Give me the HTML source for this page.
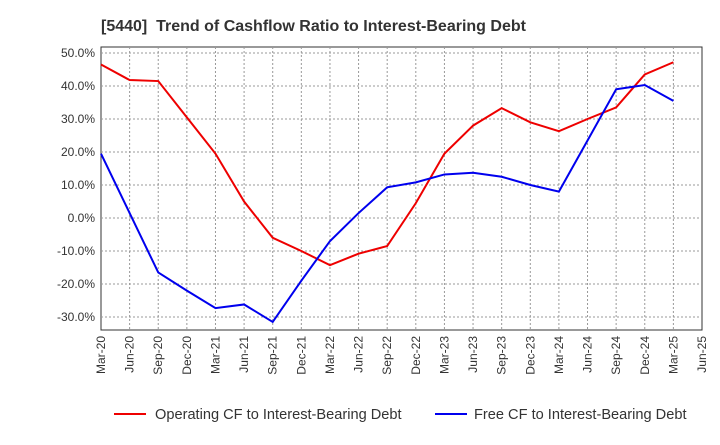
<!DOCTYPE html>
<html><head><meta charset="utf-8"><style>
body{margin:0;background:#fff;font-family:"Liberation Sans",sans-serif}
svg text{font-family:"Liberation Sans",sans-serif}
</style></head><body>
<svg id="chart" width="720" height="440">
<text x="101" y="31" text-anchor="start" font-size="16" font-weight="bold" fill="#333" xml:space="preserve">[5440]  Trend of Cashflow Ratio to Interest-Bearing Debt</text>
<g id="grid"></g><g id="axes"></g><g id="series"></g>
<g>
<line x1="114" y1="414" x2="146" y2="414" stroke="#e00" stroke-width="2"/>
<text x="155" y="419" font-size="14.6" fill="#333">Operating CF to Interest-Bearing Debt</text>
<line x1="435" y1="414" x2="467" y2="414" stroke="#00e" stroke-width="2"/>
<text x="474" y="419" font-size="14.6" fill="#333">Free CF to Interest-Bearing Debt</text>
</g>
</svg>
<script>
const categories=["Mar-20","Jun-20","Sep-20","Dec-20","Mar-21","Jun-21","Sep-21","Dec-21","Mar-22","Jun-22","Sep-22","Dec-22","Mar-23","Jun-23","Sep-23","Dec-23","Mar-24","Jun-24","Sep-24","Dec-24","Mar-25","Jun-25"];
const operatingCF=[46.5,41.8,41.5,30.5,19.5,5,-6,-10,-14.3,-10.8,-8.5,4.5,19.5,28,33.3,29,26.3,30,33.5,43.5,47.2];
const freeCF=[19.5,1.5,-16.5,-22,-27.3,-26.2,-31.5,-19,-7,1.5,9.3,10.8,13.2,13.7,12.5,10,8,23.5,39,40.3,35.5];
const yTicks=[50,40,30,20,10,0,-10,-20,-30];
const NS="http://www.w3.org/2000/svg";
const L=101,R=702,T=47,B=330;
function xs(i){return L+i*(R-L)/(categories.length-1);}
function ys(v){return 218-v*3.3;}
function mk(parent,tag,attrs){const e=document.createElementNS(NS,tag);for(const k in attrs)e.setAttribute(k,attrs[k]);document.getElementById(parent).appendChild(e);return e;}
const frame=mk("grid","rect",{x:L,y:T,width:R-L,height:B-T,fill:"none",stroke:"#333"});


yTicks.forEach(v=>{
 const g=mk("grid","line",{x1:L,x2:R,y1:ys(v),y2:ys(v),stroke:"#999","stroke-dasharray":"2,2"});
 
 
 const t=mk("axes","text",{x:L-6,y:ys(v)+4,"text-anchor":"end","font-size":"12",fill:"#333"});
 t.textContent=v.toFixed(1)+"%";
 
 
});
categories.forEach((c,i)=>{
 if(i>0&&i<categories.length-1){const g=mk("grid","line",{x1:xs(i),x2:xs(i),y1:T,y2:B,stroke:"#999","stroke-dasharray":"2,2"});
 
 }
 const t=mk("axes","text",{x:0,y:0,"text-anchor":"end","font-size":"12",fill:"#333",transform:`translate(${xs(i)+4},${B+6}) rotate(-90)`});
 t.textContent=c;
 
 
});
function line(data,color,name){
 const p=mk("series","polyline",{points:data.map((v,i)=>xs(i)+","+ys(v)).join(" "),fill:"none",stroke:color,"stroke-width":2});
 
 
}
line(operatingCF,"#e00","operating-cf-line");
line(freeCF,"#00e","free-cf-line");
</script>
</body></html>
